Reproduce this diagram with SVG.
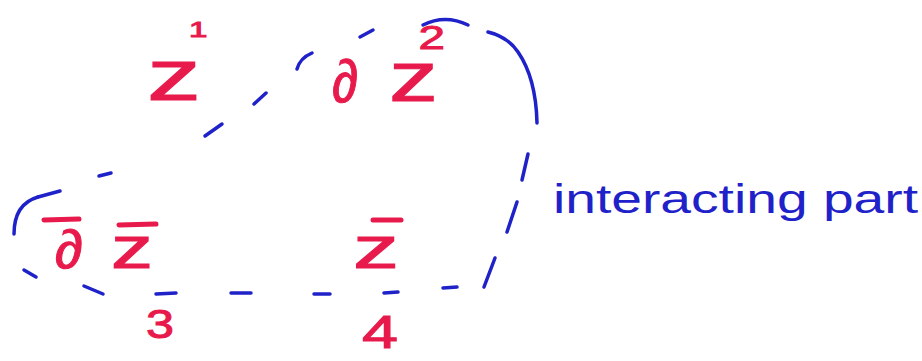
<svg xmlns="http://www.w3.org/2000/svg" width="922" height="361" viewBox="0 0 922 361">
<style>
.r{fill:#e81a4c;stroke:#e81a4c;stroke-width:1;font-family:"Liberation Sans","DejaVu Sans",sans-serif;}
.b{fill:#1f22c8;font-family:"Liberation Sans","DejaVu Sans",sans-serif;}
.d{fill:none;stroke:#1f22c8;stroke-width:3.5;stroke-linecap:round;}
.bar{stroke:#e81a4c;stroke-width:5;stroke-linecap:round;}
</style>
<rect width="922" height="361" fill="#ffffff"/>
<g id="connectors">
<g id="boundary">
<path class="d" d="M205,136 L222,124"/>
<path class="d" d="M254,104 L266,93"/>
<path class="d" d="M297,69 Q300,58 312,53"/>
<path class="d" d="M360,37 L373,30"/>
<path class="d" d="M423,25 Q445,14 468,25"/>
<path class="d" d="M488,32 Q508,37 518,52 Q536,78 537,123"/>
<path class="d" d="M528,154 L522,180"/>
<path class="d" d="M517,202 L507,232"/>
<path class="d" d="M495,258 L484,287"/>
<path class="d" d="M443,288 L457,287"/>
<path class="d" d="M384,293 L398,292"/>
<path class="d" d="M314,294 L330,294"/>
<path class="d" d="M231,293 L251,293"/>
<path class="d" d="M156,294 L176,293"/>
<path class="d" d="M84,286 L103,294"/>
<path class="d" d="M24,270 L36,277"/>
<path class="d" d="M14,234 Q14,204 38,197"/>
<path class="d" d="M38,197 L60,191" stroke-width="2"/>
<path class="d" d="M99,176 L111,173"/>
</g>
</g>
<g id="z1" transform="translate(147,100) scale(1.5,1)">
<text class="r" x="0" y="0"><tspan font-size="72">z</tspan><tspan font-size="22" dx="-8" dy="-63">1</tspan></text>
</g>
<g id="dz2">
<text class="r" x="332" y="102" font-size="60" textLength="26" lengthAdjust="spacingAndGlyphs">∂</text>
<g transform="translate(389,101) scale(1.4,1)">
<text class="r" x="0" y="0"><tspan font-size="70">z</tspan><tspan font-size="34" dx="-14" dy="-52">2</tspan></text>
</g>
</g>
<g id="dbar-zbar">
<line class="bar" x1="44" y1="220" x2="79" y2="219"/>
<text class="r" x="55" y="268" font-size="54" textLength="28" lengthAdjust="spacingAndGlyphs">∂</text>
<line class="bar" x1="119" y1="225" x2="156" y2="224"/>
<text class="r" x="111" y="268" font-size="60" textLength="42" lengthAdjust="spacingAndGlyphs">z</text>
</g>
<g id="zbar">
<line class="bar" x1="373" y1="220" x2="401" y2="220"/>
<text class="r" x="353" y="268" font-size="60" textLength="46" lengthAdjust="spacingAndGlyphs">z</text>
</g>
<g id="label3">
<text class="r" x="146" y="338" font-size="40" textLength="28" lengthAdjust="spacingAndGlyphs">3</text>
</g>
<g id="label4">
<text class="r" x="362" y="348" font-size="46" textLength="36" lengthAdjust="spacingAndGlyphs">4</text>
</g>
<g id="interacting-part">
<text class="b" x="553" y="213" font-size="40" textLength="365" lengthAdjust="spacingAndGlyphs">interacting part</text>
</g>
</svg>
